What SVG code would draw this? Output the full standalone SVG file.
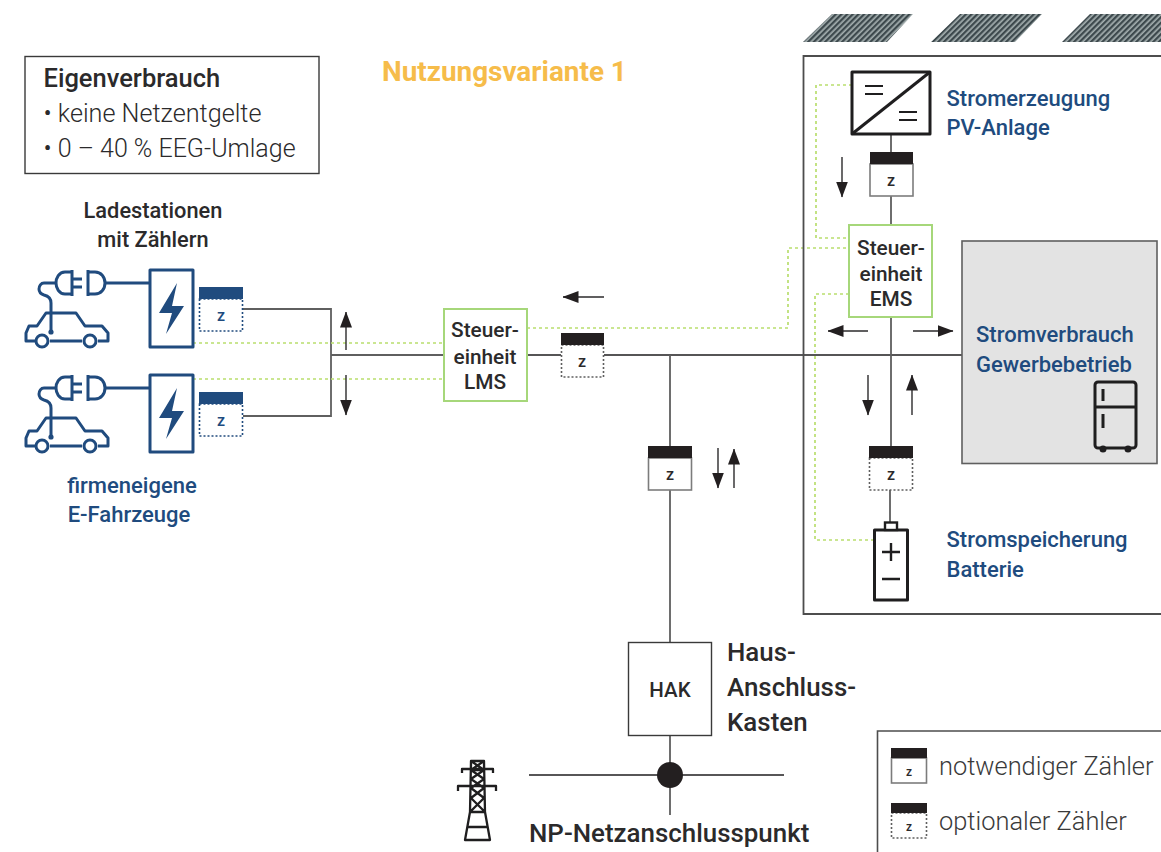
<svg xmlns="http://www.w3.org/2000/svg" width="1161" height="852" viewBox="0 0 1161 852">
<style>
text{font-family:Roboto,"Liberation Sans",sans-serif;fill:#2b2a2b}
.m{font-weight:500}
.b{fill:#204b7e;font-weight:500;font-size:22px}
.c{text-anchor:middle}
.s{font-size:20.800px}
.h{font-size:20.500px}
.la{font-size:21.800px}
.z{font-size:16px;font-weight:500;text-anchor:middle}
.l{font-size:25.400px;font-weight:300;fill:#3a3a3a}
.n{font-size:25.900px}
.w{fill:none;stroke:#5f5f5f;stroke-width:1.8}
.k{fill:none;stroke:#1f1e1f;stroke-width:1.5}
.g{fill:none;stroke:#b9de6e;stroke-width:1.7;stroke-dasharray:3 3}
.gb{fill:#fff;stroke:#a6d77a;stroke-width:2}
.ar{fill:none;stroke:#2b2a2b;stroke-width:1.4}
.ic{fill:none;stroke:#1f1e1f;stroke-width:3;stroke-linejoin:round}
.bl{fill:none;stroke:#204b7e;stroke-width:3;stroke-linejoin:round}
.bar{fill:#231f20}
.sol{fill:#fff;stroke:#7c7c7c;stroke-width:1.6}
.opt{fill:#fff;stroke:#5f5f5f;stroke-width:1.6;stroke-dasharray:2 2}
</style>
<defs>
<pattern id="st" width="4" height="4" patternUnits="userSpaceOnUse" patternTransform="rotate(-45)"><rect width="4" height="4" fill="#a3aeae"/><rect width="4" height="2.300" fill="#3d494d"/></pattern>
<marker id="ah" markerUnits="userSpaceOnUse" markerWidth="16" markerHeight="12" viewBox="0 0 16 12" refX="15.500" refY="6" orient="auto"><path d="M0 0L16 6L0 12z" fill="#231f20"/></marker>
<g id="ev">
<path class="bl" d="M57 283H44C41 283 39 286 39 289C39 292 41 294 44 295C48 296 51 298 51 303V332"/>
<circle cx="51" cy="332" r="2.600" fill="#204b7e"/>
<path class="bl" d="M72 270V296M72 272H65C59 272 56 278 56 283C56 288 59 294 65 294H72M72 279H82M72 287H82M88 270V296M88 272H95C101 272 105 277 105 283C105 289 101 294 95 294H88M105 283H150"/>
<path class="bl" d="M36 341H26V333L29 326H37L46 313H76L85 326H102L108 333V341H98M50 341H82"/>
<circle class="bl" cx="42" cy="341" r="6"/><circle class="bl" cx="90" cy="341" r="6"/>
<rect class="bl" x="150" y="270" width="43" height="77"/>
<path d="M177 283L159 313H172L166 334L184 306H172z" fill="#204b7e"/>
</g>
<g id="mb"><rect class="opt" style="stroke:#204b7e" x="199.500" y="299" width="43" height="32"/><rect x="199" y="287" width="44" height="12" fill="#204b7e"/><text class="z" x="221" y="321" style="fill:#204b7e">z</text></g>
</defs>

<g id="connectors">
<path class="w" d="M243 309H331V416H243M331 355H444"/>
<path class="k" d="M527 355H561M604 355H962"/>
<path class="w" d="M670 355V446M670 490V642M670 736V815M891 134V152M891 196V225M891 317V446M890 490V522"/>
<path class="k" d="M529 775H784"/>
<path class="g" d="M193 343H444M193 379H444M527 328H788V248H849M852 85H816V238H849M849 294H815V540H874"/>
<path class="ar" marker-end="url(#ah)" d="M346 350V312"/>
<path class="ar" marker-end="url(#ah)" d="M346 375V415"/>
<path class="ar" marker-end="url(#ah)" d="M604 297H563"/>
<path class="ar" marker-end="url(#ah)" d="M718 448V488"/>
<path class="ar" marker-end="url(#ah)" d="M734 488V449"/>
<path class="ar" marker-end="url(#ah)" d="M842 157V197"/>
<path class="ar" marker-end="url(#ah)" d="M868 331H828"/>
<path class="ar" marker-end="url(#ah)" d="M913 331H953"/>
<path class="ar" marker-end="url(#ah)" d="M868 375V415"/>
<path class="ar" marker-end="url(#ah)" d="M912 415V375"/>
</g>

<g id="solar">
<path d="M803 42L832 14H913L887 42z" fill="url(#st)"/>
<path d="M931 42L960 14H1042L1015 42z" fill="url(#st)"/>
<path d="M1062 42L1090 14H1175L1161 42z" fill="url(#st)"/>
</g>
<g id="gebaeude"><path d="M1161 56H803.500V614H1161" fill="none" stroke="#4d4d4d" stroke-width="1.800"/></g>

<g id="eigenverbrauch">
<rect x="25" y="56.500" width="294" height="117" fill="#fff" stroke="#3a3a3a" stroke-width="1.400"/>
<text x="43.500" y="87" class="m" font-size="25.500">Eigenverbrauch</text>
<text x="43.500" y="122" font-size="25.200" style="font-weight:300">• keine Netzentgelte</text>
<text x="43.500" y="157" font-size="25" style="font-weight:300">• 0 – 40 % EEG-Umlage</text>
</g>
<g id="titel"><text x="382" y="81" font-size="27.900" font-weight="700" style="fill:#f6bc4a">Nutzungsvariante 1</text></g>

<g id="ladestationen">
<text class="m la c" x="153" y="218">Ladestationen</text>
<text class="m la c" x="153" y="247">mit Zählern</text>
<use href="#ev"/><use href="#ev" y="105"/>
<use href="#mb"/><use href="#mb" y="105"/>
<text class="b c" x="132" y="493">firmeneigene</text>
<text class="b c" x="129" y="522">E-Fahrzeuge</text>
</g>

<g id="lms">
<rect class="gb" x="444" y="309" width="83" height="92"/>
<text class="m s c" x="485" y="337">Steuer-</text><text class="m s c" x="485" y="364">einheit</text><text class="m s c" x="485" y="389">LMS</text>
</g>
<g id="zaehler-lms"><rect class="opt" x="561.500" y="345" width="42" height="32"/><rect class="bar" x="561" y="333" width="43" height="12"/><text class="z" x="582" y="367">z</text></g>
<g id="zaehler-netz"><rect class="sol" x="648.500" y="458" width="43" height="32"/><rect class="bar" x="648" y="446" width="44" height="12"/><text class="z" x="670" y="480">z</text></g>

<g id="pv">
<rect class="ic" x="852" y="72" width="78" height="62"/>
<path class="ic" d="M852 134L930 72"/>
<path d="M865 86H883M865 94H883M899 112H917M899 120H917" fill="none" stroke="#1f1e1f" stroke-width="2"/>
<text class="b" x="946.500" y="106">Stromerzeugung</text><text class="b" x="946.500" y="135">PV-Anlage</text>
</g>
<g id="zaehler-pv"><rect class="sol" x="870" y="164" width="43" height="32"/><rect class="bar" x="870" y="152" width="43" height="12"/><text class="z" x="891" y="186">z</text></g>

<g id="ems">
<rect class="gb" x="849" y="225" width="83" height="92"/>
<text class="m s c" x="891" y="255">Steuer-</text><text class="m s c" x="891" y="281">einheit</text><text class="m s c" x="891" y="306">EMS</text>
</g>

<g id="gewerbe">
<rect x="962" y="241" width="195" height="222.500" fill="#e3e3e3" stroke="#5f5f5f" stroke-width="1.600"/>
<text class="b" x="976" y="342">Stromverbrauch</text><text class="b" x="976" y="372">Gewerbebetrieb</text>
<rect class="ic" x="1095" y="382" width="41" height="66" rx="3"/>
<path class="ic" d="M1095 407H1136M1103 389V401M1103 414V428"/>
<circle cx="1103" cy="449" r="3.500" fill="#1f1e1f"/><circle cx="1128" cy="449" r="3.500" fill="#1f1e1f"/>
</g>

<g id="zaehler-batterie"><rect class="opt" x="869.500" y="458" width="43" height="32"/><rect class="bar" x="869" y="446" width="44" height="12"/><text class="z" x="891" y="480">z</text></g>
<g id="batterie">
<rect class="ic" x="874.500" y="530" width="33" height="70"/>
<rect x="885" y="522.500" width="12" height="7.500" fill="#fff" stroke="#1f1e1f" stroke-width="2.400"/>
<path d="M882 552H900M891 543V561M882 579H900" fill="none" stroke="#1f1e1f" stroke-width="2.400"/>
<text class="b" x="946.500" y="547">Stromspeicherung</text><text class="b" x="946.500" y="577">Batterie</text>
</g>

<g id="hak">
<rect x="628.500" y="642.500" width="83" height="93" fill="#fff" stroke="#3a3a3a" stroke-width="1.400"/>
<text class="m h c" x="670" y="697">HAK</text>
<text class="m n" x="727" y="661">Haus-</text><text class="m n" x="727" y="696">Anschluss-</text><text class="m n" x="727" y="731">Kasten</text>
</g>
<g id="netzanschluss">
<circle cx="670" cy="775" r="13" fill="#231f20"/>
<text class="m n" x="529" y="842">NP-Netzanschlusspunkt</text>
<path d="M471 761H484V770H471zM471 761L484 770M484 761L471 770M471 770L484 779M484 770L471 779M471 779L484 788M484 779L471 788M471 788L484 798M484 788L471 798M471 798L485 812M484 798L470 812M470 812H485M467 827H488M471 761L470 812L465 840H490L485 812L484 761M462 773V769H493V773M458 791V786H496V791" fill="none" stroke="#1f1e1f" stroke-width="2.300" stroke-linejoin="round"/>
</g>

<g id="legende">
<path d="M1161 731H877.500V852" fill="none" stroke="#4d4d4d" stroke-width="1.600"/>
<rect class="sol" x="891.500" y="758" width="35" height="25"/><rect class="bar" x="891" y="748" width="36" height="10"/><text class="z" x="909" y="776" style="font-size:12px">z</text>
<text class="l" x="939" y="775">notwendiger Zähler</text>
<rect class="opt" x="891.500" y="813" width="35" height="25"/><rect class="bar" x="891" y="803" width="36" height="10"/><text class="z" x="909" y="831" style="font-size:12px">z</text>
<text class="l" x="939" y="830">optionaler Zähler</text>
</g>
</svg>
